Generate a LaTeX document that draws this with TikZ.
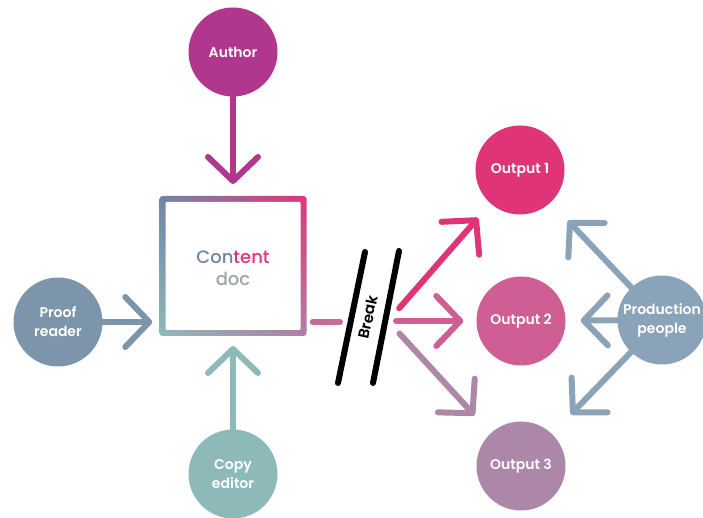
\documentclass[tikz,border=0pt]{standalone}
\usepackage{fontspec}
\setmainfont{Poppins}[BoldFont={Poppins SemiBold}]
\newfontfamily\docfont{Poppins Medium}
\usepackage{tikz}
\usetikzlibrary{arrows.meta,backgrounds,shadings}

\definecolor{authorcol}{HTML}{B0378D}
\definecolor{proofcol}{HTML}{7D95AB}
\definecolor{copycol}{HTML}{8DBAB9}
\definecolor{outonecol}{HTML}{DF3478}
\definecolor{outtwocol}{HTML}{CE5E93}
\definecolor{outthreecol}{HTML}{AD87A7}
\definecolor{prodcol}{HTML}{8BA3B9}
\definecolor{dashcol}{HTML}{C86A98}
\definecolor{docblue}{HTML}{6F85A8}
\definecolor{docpink}{HTML}{E0357A}
\definecolor{docteal}{HTML}{8DBAB9}
\definecolor{docmauve}{HTML}{B07FA6}
\definecolor{docgray}{HTML}{9AA5AA}

\begin{document}
\begin{tikzpicture}[x=1pt, y=1pt]
		% Define the styles
		\tikzstyle{person}=[circle, minimum size=89pt, inner sep=0pt, text=white, font=\fontsize{14}{19}\selectfont\bfseries, align=center]
		\tikzstyle{flow}=[line width=6pt, line cap=round, -{Straight Barb[length=24pt, width=50pt, round]}]
		\tikzstyle{breakline}=[line width=6pt, line cap=round, black]

		\useasboundingbox (0,0) rectangle (703,518);

		% Define nodes
		\node (author) [person, fill=authorcol] at (233,466) {Author};
		\node (doc) [minimum width=141pt, minimum height=134pt, align=center, font=\docfont\fontsize{18}{22}\selectfont] at (233,250) {{\color{docblue}Con}{\color{docpink}tent}\\{\color{docgray}doc}};
		\node (proof) [person, fill=proofcol] at (58,196) {Proof\\reader};
		\node (copy) [person, fill=copycol] at (233,44) {Copy\\editor};
		\node (out1) [person, fill=outonecol] at (520,348) {Output 1};
		\node (out2) [person, fill=outtwocol] at (521,197) {Output 2};
		\node (out3) [person, fill=outthreecol] at (521,52) {Output 3};
		\node (prod) [person, fill=prodcol] at (662,198) {Production\\people};
		\node (brk) [rotate=78, inner sep=0pt, font=\fontsize{15}{17}\selectfont\bfseries] at (368,201) {Break};
		\coordinate (brkin) at (340,196);
		\coordinate (fan) at (388,197);

		% Box border
		\begin{scope}[on background layer]
			\shade[upper left=docblue, upper right=docpink, lower left=docteal, lower right=docmauve, rounded corners=3pt]
				(159.5,322) rectangle (306.5,182);
			\fill[white, rounded corners=1pt] (165.5,316) rectangle (300.5,188);
		\end{scope}

		% Define edges
		\draw[flow, authorcol, shorten >=12pt] (author) -- (233,322);
		\draw[flow, proofcol, shorten >=10pt] (proof) -- (proof -| doc.west);
		\draw[flow, copycol, shorten >=10pt] (copy) -- (233,182);
		\draw[line width=6pt, line cap=round, dashcol, shorten <=9pt] (doc.east |- brkin) -- (brkin);
		\draw[breakline] (338,135) -- (365,266);
		\draw[breakline] (373,135) -- (399,267);
		\draw[flow, outonecol, shorten <=17pt, shorten >=19pt] (fan) -- (out1);
		\draw[flow, outtwocol, shorten <=8pt, shorten >=13pt] (fan) -- (out2);
		\draw[flow, outthreecol, shorten <=17pt, shorten >=24pt] (fan) -- (out3);
		\draw[flow, prodcol, shorten >=25pt] (prod) -- (out1);
		\draw[flow, prodcol, shorten >=15pt] (prod) -- (out2);
		\draw[flow, prodcol, shorten >=27pt] (prod) -- (out3);
	\end{tikzpicture}
\end{document}
